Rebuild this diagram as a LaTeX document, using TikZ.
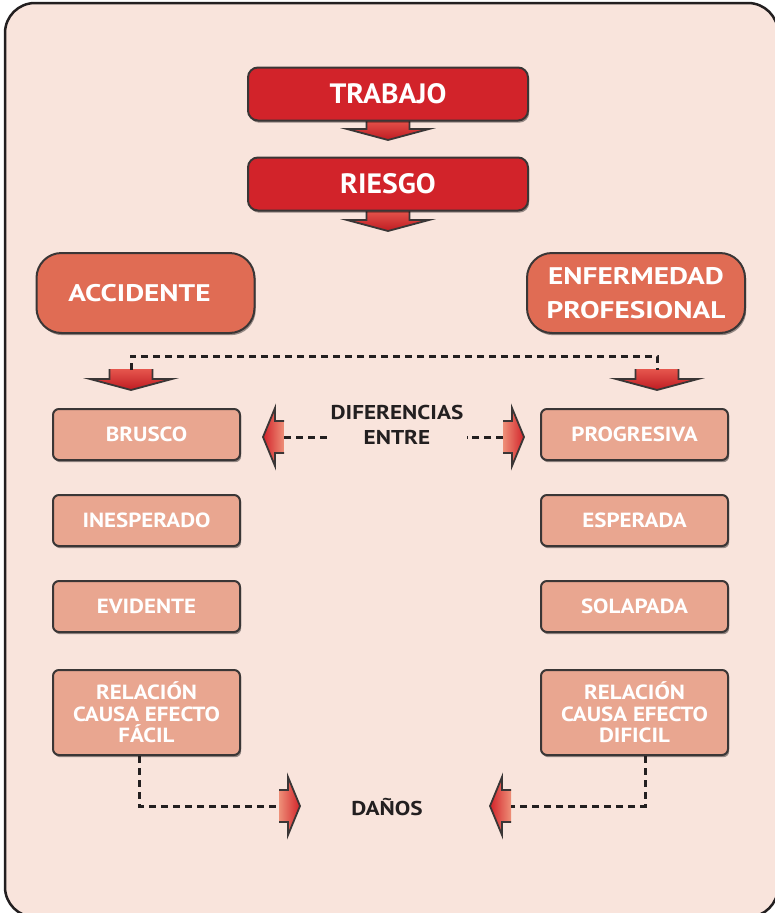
\documentclass[tikz,border=0pt]{standalone}
\usepackage{fontspec}
\setmainfont{PT Sans}
\newfontfamily\dinA[FakeStretch=1.06]{PT Sans}
\newfontfamily\dinB[FakeStretch=1.22]{PT Sans}
\newfontfamily\dinC[FakeStretch=1.12]{PT Sans}
\newfontfamily\dinD[FakeStretch=1.16]{PT Sans}
\usetikzlibrary{shadows}
\definecolor{bgc}{HTML}{F9E4DC}
\definecolor{redc}{HTML}{D2232A}
\definecolor{redd}{HTML}{BF1B22}
\definecolor{arrtop}{HTML}{E6564D}
\definecolor{arrlight}{HTML}{EE8F78}
\definecolor{mainc}{HTML}{E06C54}
\definecolor{subc}{HTML}{E9A690}
\definecolor{ink}{HTML}{231F20}
\definecolor{edge}{HTML}{3A3636}
\tikzset{
  boxbase/.style={draw=edge, line width=2pt, text=white, align=center, inner sep=0pt,
    drop shadow={shadow xshift=1.2pt, shadow yshift=-2.2pt, opacity=0.4, fill=black}},
  redbox/.style={boxbase, fill=redc, rounded corners=10pt, minimum width=280pt, minimum height=53pt,
    font=\dinA\bfseries\fontsize{28}{30}\selectfont},
  mainbox/.style={boxbase, fill=mainc, rounded corners=25pt, minimum width=218pt, minimum height=80pt,
    font=\dinB\bfseries\fontsize{24}{34}\selectfont},
  subbox/.style={boxbase, fill=subc, rounded corners=6pt, minimum width=187pt, minimum height=51pt,
    font=\dinC\bfseries\fontsize{20.5}{21.5}\selectfont},
  tallbox/.style={subbox, minimum height=85pt},
  lbl/.style={text=ink, font=\dinD\bfseries\fontsize{20}{25}\selectfont, align=center, inner sep=3pt},
  dsh/.style={draw=ink, line width=3pt, dash pattern=on 7pt off 5pt},
  arredge/.style={draw=edge, line width=1.8pt, line join=miter},
  arrdown/.pic={
    \path[top color=arrtop, bottom color=redd]
      (-21.5,-1) -- (-21.5,9) -- (-41,9) -- (0,20) -- (41,9) -- (21.5,9) -- (21.5,-1) -- cycle;
    \draw[arredge] (-21.5,-1) -- (-21.5,9) -- (-41,9) -- (0,20) -- (41,9) -- (21.5,9) -- (21.5,-1);
    \coordinate (-tail) at (0,0);
  },
  arrleft/.pic={
    \path[left color=redc, right color=arrlight]
      (0,-16) -- (-9,-16) -- (-9,-29) -- (-21,0) -- (-9,29) -- (-9,16) -- (0,16) -- cycle;
    \draw[arredge] (0,-16) -- (-9,-16) -- (-9,-29) -- (-21,0) -- (-9,29) -- (-9,16) -- (0,16);
    \coordinate (-tail) at (0,0);
  },
  arrright/.pic={
    \path[right color=redc, left color=arrlight]
      (0,-16) -- (9,-16) -- (9,-29) -- (21,0) -- (9,29) -- (9,16) -- (0,16) -- cycle;
    \draw[arredge] (0,-16) -- (9,-16) -- (9,-29) -- (21,0) -- (9,29) -- (9,16) -- (0,16);
    \coordinate (-tail) at (0,0);
  },
}
\begin{document}
\begin{tikzpicture}[x=1pt,y=-1pt]
\useasboundingbox (0,0) rectangle (775,913);
\begin{scope}
\clip (0,0) rectangle (775,913);
\draw[fill=bgc, draw=ink, line width=2.5pt, rounded corners=30pt] (5,3) rectangle (778,917);
\end{scope}

% arrows below the red boxes
\pic (a1) at (388,120) {arrdown};
\pic (a2) at (388,211) {arrdown};

\node[redbox] (trabajo) at (388,94) {TRABAJO};
\node[redbox] (riesgo) at (388,184) {RIESGO};

\node[mainbox] (acc) at (145.5,293) {\hspace*{-12pt}ACCIDENTE};
\node[mainbox] (enf) at (636,293) {ENFERMEDAD\\PROFESIONAL};

\pic (al) at (131,370) {arrdown};
\pic (ar) at (657,370) {arrdown};
\draw[dsh] (al-tail) -- ++(0,-14) -| (ar-tail);

\node[subbox] (brusco) at (146.5,434.5) {BRUSCO};
\node[subbox] (inesp) at (146.5,520.5) {INESPERADO};
\node[subbox] (evid) at (146.5,606.5) {EVIDENTE};
\node[tallbox] (rel1) at (146.5,712.5) {RELACIÓN\\CAUSA EFECTO\\FÁCIL};

\node[subbox] (prog) at (634.5,434.5) {PROGRESIVA};
\node[subbox] (esp) at (634.5,520.5) {ESPERADA};
\node[subbox] (sol) at (634.5,606.5) {SOLAPADA};
\node[tallbox] (rel2) at (634.5,712.5) {RELACIÓN\\CAUSA EFECTO\\DIFICIL};

\node[lbl] (dif) at (397,425) {DIFERENCIAS\\ENTRE};
\pic (dl) at (284,437) {arrleft};
\pic (dr) at (503,437) {arrright};
\draw[dsh] (dl-tail) -- (dif.west |- dl-tail);
\draw[dsh] (dr-tail) -- (dif.east |- dr-tail);

\node[lbl] (danos) at (387,807) {DAÑOS};
\pic (bl) at (279,806) {arrright};
\pic (br) at (511,806) {arrleft};
\draw[dsh] ([xshift=-7.5pt]rel1.south) |- (bl-tail);
\draw[dsh] ([xshift=10.5pt]rel2.south) |- (br-tail);
\end{tikzpicture}
\end{document}
